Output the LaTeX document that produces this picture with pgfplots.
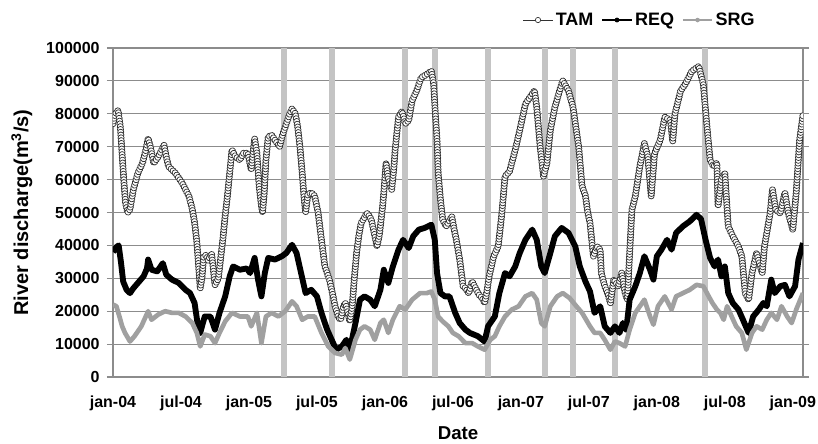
\documentclass[border=0pt]{standalone}
\usepackage{fontspec}
\setmainfont{Liberation Sans}
\usepackage{pgfplots}
\pgfplotsset{compat=1.18}
\usetikzlibrary{decorations.markings}
\definecolor{gridc}{RGB}{140,140,140}
\definecolor{barc}{RGB}{196,196,196}
\definecolor{srgc}{RGB}{160,160,160}
\definecolor{tamc}{RGB}{50,50,50}
\begin{document}
\begin{tikzpicture}
\useasboundingbox (-84.75pt,-49.5pt) rectangle (528.75pt,282.75pt);
\begin{axis}[
  scale only axis, width=517.5pt, height=246.75pt,
  xmin=0, xmax=60.9, ymin=0, ymax=100000,
  axis line style={gridc, line width=0.8pt},
  ymajorgrids, major grid style={gridc, line width=0.8pt},
  xtick={0,6,...,60},
  xticklabels={jan-04,jul-04,jan-05,jul-05,jan-06,jul-06,jan-07,jul-07,jan-08,jul-08,jan-09},
  ytick={0,10000,...,100000},
  scaled y ticks=false,
  /pgf/number format/assume math mode=true,
  /pgf/number format/fixed,
  /pgf/number format/1000 sep={},
  /pgf/number format/precision=0,
  tick label style={font=\bfseries\fontsize{12}{14}\selectfont},
  xtick style={draw=none},
  ytick style={gridc, line width=0.8pt},
  tick align=outside, major tick length=4.5pt,
  xticklabel style={yshift=-6.5pt},
  yticklabel style={xshift=-2pt},
  xlabel={Date}, ylabel={River discharge(m\textsuperscript{3}/s)},
  xlabel style={font=\bfseries\fontsize{14}{16}\selectfont, at={(axis description cs:0.5,-0.17)}, anchor=center},
  ylabel style={font=\bfseries\fontsize{15}{17}\selectfont, at={(axis description cs:-0.132,0.5)}, anchor=center},
  legend style={draw=none, fill=none, at={(axis description cs:0.94,1.085)}, anchor=east,
    legend columns=-1, font=\bfseries\fontsize{13.5}{15}\selectfont,
    /tikz/every even column/.append style={column sep=4pt}},
]
% vertical grey bands
\addplot[barc, line width=4.5pt, ycomb, mark=none, forget plot] coordinates {
(15.1,100000) (19.3,100000) (25.8,100000) (28.4,100000) (33.1,100000)
(38.1,100000) (40.6,100000) (44.3,100000) (52.25,100000)};
% TAM
\addplot[tamc, line width=0.4pt, mark=none, forget plot, postaction={decorate},
  decoration={markings, mark=between positions 0 and 1 step 2.1pt with {\draw[tamc, fill=white, line width=0.55pt] (0,0) circle (2.3pt);}}]
 table {
0.0 77000
0.2 80000
0.45 81000
0.65 76000
0.8 68000
0.95 60000
1.1 53000
1.3 50000
1.5 51000
1.8 57000
2.2 62000
2.6 65000
2.9 69000
3.1 72500
3.3 70000
3.6 65000
4.0 67000
4.3 69000
4.5 70500
4.7 67000
4.9 64000
5.2 63000
5.5 62000
6.1 59000
6.7 55000
7.0 51000
7.2 47000
7.4 41000
7.55 34000
7.7 27000
7.85 30000
8.0 36500
8.2 37000
8.4 35500
8.7 37500
8.85 33000
9.0 28000
9.3 30000
9.5 36000
9.7 42000
9.9 49000
10.1 55000
10.3 62000
10.5 69000
10.8 67000
11.2 66000
11.5 68000
11.9 68000
12.2 63000
12.5 72500
12.7 68000
12.9 58000
13.1 52000
13.2 50000
13.35 56000
13.5 66000
13.7 73000
14.0 73500
14.3 72000
14.7 70000
15.0 74000
15.3 77000
15.6 80000
15.8 81500
16.1 80000
16.3 76000
16.5 70000
16.7 62000
16.85 55000
17.0 50000
17.2 55500
17.5 56000
17.8 55000
18.1 50000
18.4 41700
18.7 33600
19.1 29600
19.4 25000
19.6 21500
19.9 18000
20.1 17500
20.3 21000
20.5 22500
20.7 20000
20.9 17000
21.1 21000
21.3 30000
21.5 37700
21.7 43000
21.9 46800
22.2 48500
22.4 49800
22.6 49000
22.8 47800
23.1 43000
23.3 39700
23.5 43000
23.6 45800
23.8 52000
23.9 56000
24.1 65000
24.3 60000
24.6 57000
24.8 64000
24.9 69000
25.2 79000
25.5 80700
25.8 77000
26.1 78000
26.4 84000
26.8 87000
27.2 91000
27.7 92000
28.1 93000
28.3 89000
28.45 80000
28.6 72000
28.7 62000
28.9 54000
29.1 47800
29.4 45800
29.7 47500
29.9 48800
30.1 45000
30.3 41700
30.6 35700
30.9 27600
31.1 27000
31.4 25500
31.7 29000
32.0 27000
32.3 25000
32.6 24000
32.8 22500
33.0 26000
33.2 30600
33.6 36700
34.0 39700
34.3 49000
34.6 61000
35.0 62500
35.5 69000
35.9 75000
36.4 83000
36.8 85000
37.2 87000
37.4 82000
37.7 70000
38.0 61000
38.3 65000
38.6 75000
39.0 82000
39.5 88000
39.7 90000
40.2 87000
40.6 82000
41.1 70000
41.4 58000
41.7 55000
41.9 50000
42.1 46800
42.4 36700
42.7 39700
43.0 38700
43.1 31600
43.4 27600
43.7 25000
43.9 22500
44.2 29600
44.6 27600
44.9 31600
45.2 25500
45.4 23500
45.6 37700
45.8 50800
46.1 55000
46.5 64000
46.9 71000
47.2 67000
47.5 55000
47.8 68000
48.3 72000
48.7 79000
49.2 78000
49.4 71600
49.6 80000
50.1 87000
50.5 89000
51.1 93000
51.7 94400
52.1 89000
52.4 77000
52.7 66000
53.0 64000
53.3 65000
53.4 52000
53.7 60000
54.0 62000
54.3 45800
54.7 42800
55.2 39700
55.5 36700
55.8 25500
56.1 23500
56.4 31600
56.8 37700
57.3 31600
57.5 39700
58.0 49800
58.2 57000
58.5 50800
58.9 49800
59.3 56000
59.6 49800
60.0 44800
60.3 56000
60.6 72000
60.9 79700
};
% REQ
\addplot[black, line width=4.4pt, line join=round, mark=none, forget plot] table {
0.0 38000
0.3 39500
0.5 40000
0.7 35000
0.9 29000
1.2 26500
1.5 25500
1.8 27000
2.2 28600
2.7 30600
3.0 33000
3.1 35700
3.4 32600
3.9 32100
4.4 34600
4.7 31100
5.2 29600
5.8 28600
6.4 26500
6.8 25500
7.2 22500
7.5 15400
7.7 13400
7.9 16000
8.1 18400
8.6 18400
9.0 14400
9.4 19500
9.9 24500
10.3 30600
10.6 33600
11.2 32600
11.8 33000
12.1 31600
12.5 36200
12.8 29600
13.1 24500
13.4 31600
13.7 36200
14.3 35700
14.9 36700
15.3 37700
15.8 40200
16.2 37700
16.6 31600
17.0 25500
17.5 26500
18.0 24500
18.4 19500
18.9 14400
19.3 11300
19.7 8300
20.2 9300
20.6 11300
20.9 8300
21.4 16400
21.8 23500
22.2 24500
22.7 23500
23.1 21500
23.6 26500
23.9 32600
24.3 28600
24.7 33600
25.2 38700
25.6 41700
26.1 39200
26.5 42800
27.0 44800
27.5 45300
28.1 46300
28.4 41700
28.6 31600
28.9 25500
29.3 24500
29.7 24500
30.2 19500
30.6 16400
31.1 14400
31.5 13400
32.2 12400
32.8 10800
33.1 15400
33.7 18400
34.1 25500
34.6 31600
35.0 30600
35.5 33600
35.9 37700
36.4 41700
37.0 44800
37.4 41700
37.8 33600
38.1 31600
38.6 37700
39.0 42800
39.6 45300
40.2 43800
40.8 39700
41.2 33600
41.7 29000
42.1 26000
42.5 19500
43.0 21500
43.4 15400
43.9 13400
44.3 15400
44.7 13400
45.0 16400
45.3 14400
45.6 23500
46.1 27600
46.5 31600
46.9 36700
47.4 32600
47.7 29600
48.0 36700
48.4 38700
48.9 41700
49.3 38700
49.7 43800
50.3 45800
50.9 47300
51.5 49300
51.9 48000
52.3 41700
52.7 36200
53.1 33600
53.4 35700
53.7 30600
54.0 33600
54.3 25500
54.7 22500
55.2 20500
55.6 17400
56.1 13400
56.5 18400
57.0 20500
57.4 22500
57.7 21500
58.1 29600
58.4 25500
58.9 27600
59.3 28000
59.7 24500
60.2 27600
60.5 35700
60.9 40700
};
% SRG
\addplot[srgc, line width=3.5pt, line join=round, mark=none, forget plot] table {
0.0 22000
0.3 21500
0.6 18000
0.8 15500
1.06 13400
1.5 10800
1.9 12400
2.5 15400
3.1 20000
3.4 17400
4.0 19000
4.6 20000
5.2 19500
5.8 19500
6.4 18400
7.0 16400
7.4 13400
7.7 9300
8.1 12900
8.6 12400
9.0 10300
9.4 13400
9.9 16900
10.5 19500
11.2 18400
11.9 18400
12.2 15400
12.7 19500
13.1 10300
13.5 18400
14.0 19500
14.6 18400
15.2 20000
15.8 23000
16.2 21500
16.7 17400
17.2 18400
17.8 18400
18.4 13400
19.0 9300
19.6 7300
20.2 6800
20.5 8800
20.9 5300
21.4 11300
21.8 14400
22.2 15400
22.7 14400
23.1 11300
23.6 16400
23.9 17400
24.3 13400
24.7 17400
25.3 21500
25.8 20500
26.4 23500
27.1 25500
27.7 25500
28.1 26000
28.4 23500
28.7 18400
29.1 16900
29.6 15400
30.0 13400
30.5 12400
31.1 10300
31.7 10300
32.2 9300
32.8 8300
33.3 11300
33.7 12400
34.1 15400
34.6 18400
35.2 20500
35.8 21500
36.4 24500
37.0 25500
37.4 23500
37.8 16400
38.1 15400
38.6 21500
39.2 24500
39.7 25500
40.3 24000
40.9 21500
41.4 19500
42.1 15400
42.5 13400
43.0 13400
43.4 11300
43.9 8300
44.3 10800
44.7 10300
45.2 9300
45.6 14400
46.1 19500
46.5 21500
46.9 23500
47.4 18400
47.7 15900
48.1 21500
48.7 24500
49.3 20500
49.7 24500
50.3 25500
50.9 26500
51.5 28000
52.1 27600
52.5 25000
52.9 22500
53.3 20500
53.6 19500
53.9 17400
54.2 21500
54.6 18400
55.0 15400
55.5 13400
55.9 8300
56.4 13400
56.8 15400
57.3 14400
57.7 17400
58.1 19500
58.6 17400
59.0 21500
59.5 18400
59.9 16400
60.3 20500
60.9 25500
};
\addlegendimage{legend image code/.code={
  \draw[tamc, line width=0.7pt] (0pt,0pt) -- (22pt,0pt);
  \draw[tamc, fill=white, line width=0.5pt] (11pt,0pt) circle (2pt);}}
\addlegendentry{TAM}
\addlegendimage{legend image code/.code={
  \draw[black, line width=1.3pt] (0pt,0pt) -- (22pt,0pt);
  \fill[black] (11pt,0pt) circle (1.6pt);}}
\addlegendentry{REQ}
\addlegendimage{legend image code/.code={
  \draw[srgc, line width=1.1pt] (0pt,0pt) -- (22pt,0pt);
  \fill[srgc] (11pt,0pt) circle (1.5pt);}}
\addlegendentry{SRG}
\end{axis}
\end{tikzpicture}
\end{document}
